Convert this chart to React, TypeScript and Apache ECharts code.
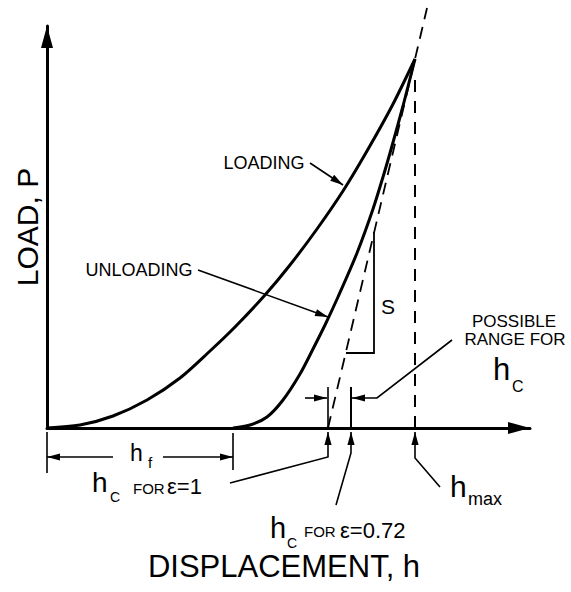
import React, { useEffect, useRef } from "react";
import * as echarts from "echarts";

// ---- data (h in display units, P in display units) ----
const loadingH = [0, 33, 66, 100, 133, 163, 188, 218, 243, 270, 296, 320, 345, 368];
const loadingP = [0, 3, 12, 28, 50, 77, 101, 133, 163, 199, 237, 277, 322, 369];
const unloadingH = [186, 203, 220, 236, 253, 266, 278, 291, 310, 326, 336, 345, 356, 368];
const unloadingP = [0, 3, 11, 28, 54, 79, 103, 131, 175, 219, 251, 282, 322, 369];

const hf = unloadingH[0];
const hc1 = 281; // hc for epsilon = 1 (tangent intercept)
const hc072 = 304; // hc for epsilon = 0.72
const hmax = 368;
const pmax = 369;

const xMax = 483;
const yMax = 402;

const FONT = "'Liberation Sans', Arial, Helvetica, sans-serif";

const loadingData = loadingH.map((h, i) => [h, loadingP[i]]);
const unloadingData = unloadingH.map((h, i) => [h, unloadingP[i]]);
const tangentTop = 420;
const tangentData = [
  [hc1, 0],
  [hc1 + ((hmax - hc1) * tangentTop) / pmax, tangentTop],
];
const hmaxLine = [
  [hmax, 0],
  [hmax, pmax - 20],
];

// plain construction lines (no arrowheads)
const plainLines = [
  { pts: [[hc1, 0], [hc1, 41]], w: 1.6 },
  { pts: [[hc072, 0], [hc072, 41]], w: 2 },
  { pts: [[0, -4], [0, -45]], w: 1.6 },
  { pts: [[hf, -5], [hf, -42]], w: 1.6 },
  { pts: [[327, 196], [327, 75], [299, 75]], w: 1.8 },
];

// leaders ending with an arrowhead at the last point
const leaders = [
  { pts: [[263, 265], [296, 243]] },
  { pts: [[151, 158], [281, 111]] },
  { pts: [[405, 88], [330, 30], [hc072 + 1, 30]] },
  { pts: [[258, 30], [hc1 - 1, 30]] },
  { pts: [[183, -55], [hc1, -29], [hc1, -4]] },
  { pts: [[289, -77], [hc072, -25], [hc072, -4]] },
  { pts: [[393, -59], [hmax, -30], [hmax, -4]] },
  { pts: [[66, -29], [0, -29]] },
  { pts: [[116, -29], [hf, -29]] },
];

type T = { t: string; at: number[]; size: number; align?: string; rot?: number };
const texts: T[] = [
  { t: "LOADING", at: [217, 265], size: 18, align: "center" },
  { t: "UNLOADING", at: [92, 158], size: 18, align: "center" },
  { t: "S", at: [341, 122], size: 21, align: "center" },
  { t: "POSSIBLE", at: [467, 107], size: 17, align: "center" },
  { t: "RANGE FOR", at: [468, 89], size: 17, align: "center" },
  { t: "h", at: [446, 59], size: 31 },
  { t: "C", at: [465, 42], size: 16 },
  { t: "h", at: [83, -25], size: 23 },
  { t: "f", at: [101, -34], size: 15 },
  { t: "h", at: [45, -54], size: 28 },
  { t: "C", at: [63, -69], size: 14 },
  { t: "FOR", at: [86, -60.5], size: 15 },
  { t: "ε=1", at: [120, -58], size: 22 },
  { t: "h", at: [403, -58], size: 30 },
  { t: "max", at: [421, -71], size: 18 },
  { t: "h", at: [223, -99.5], size: 29 },
  { t: "C", at: [240, -114.5], size: 14 },
  { t: "FOR", at: [257, -103.5], size: 15 },
  { t: "ε=0.72", at: [293, -102], size: 22 },
  { t: "DISPLACEMENT, h", at: [237, -138.5], size: 31, align: "center" },
  { t: "LOAD, P", at: [-20, 201], size: 30, align: "center", rot: Math.PI / 2 },
];

function arrowHead(p0: number[], p1: number[], len = 13, half = 3.6) {
  const dx = p1[0] - p0[0];
  const dy = p1[1] - p0[1];
  const d = Math.hypot(dx, dy) || 1;
  const ux = dx / d;
  const uy = dy / d;
  const bx = p1[0] - ux * len;
  const by = p1[1] - uy * len;
  return {
    type: "polygon",
    shape: {
      points: [
        [p1[0], p1[1]],
        [bx - uy * half, by + ux * half],
        [bx + uy * half, by - ux * half],
      ],
    },
    style: { fill: "#000", stroke: "none" },
  };
}

export default function App() {
  const ref = useRef<HTMLDivElement>(null);
  useEffect(() => {
    const chart = echarts.init(ref.current as HTMLDivElement, null, { renderer: "svg" });
    const axisLine = {
      show: true,
      onZero: false,
      symbol: ["none", "triangle"],
      symbolSize: [12, 22],
      symbolOffset: [0, -11],
      lineStyle: { color: "#000", width: 3 },
    };
    chart.setOption({
      animation: false,
      backgroundColor: "#fff",
      grid: { left: 47, right: 571 - 47 - xMax, top: 428 - yMax, bottom: 592 - 428 },
      xAxis: {
        type: "value",
        min: 0,
        max: xMax,
        axisLine,
        axisTick: { show: false },
        axisLabel: { show: false },
        splitLine: { show: false },
      },
      yAxis: {
        type: "value",
        min: 0,
        max: yMax,
        axisLine,
        axisTick: { show: false },
        axisLabel: { show: false },
        splitLine: { show: false },
      },
      series: [
        {
          type: "line",
          data: loadingData,
          smooth: 0.3,
          symbol: "none",
          clip: false,
          silent: true,
          lineStyle: { color: "#000", width: 3 },
        },
        {
          type: "line",
          data: unloadingData,
          smooth: 0.3,
          symbol: "none",
          clip: false,
          silent: true,
          lineStyle: { color: "#000", width: 3 },
        },
        {
          type: "line",
          data: tangentData,
          symbol: "none",
          clip: false,
          silent: true,
          lineStyle: { color: "#000", width: 1.8, type: [12, 8] },
        },
        {
          type: "line",
          data: hmaxLine,
          symbol: "none",
          clip: false,
          silent: true,
          lineStyle: { color: "#000", width: 2, type: [12, 9] },
        },
        {
          type: "custom",
          coordinateSystem: "cartesian2d",
          silent: true,
          clip: false,
          z: 5,
          data: [[0, 0]],
          renderItem: (_params: any, api: any) => {
            const c = (p: number[]) => api.coord(p);
            const children: any[] = [];
            plainLines.forEach((l) => {
              children.push({
                type: "polyline",
                shape: { points: l.pts.map(c) },
                style: { stroke: "#000", lineWidth: l.w, fill: "none" },
              });
            });
            leaders.forEach((l) => {
              const pts = l.pts.map(c);
              children.push({
                type: "polyline",
                shape: { points: pts },
                style: { stroke: "#000", lineWidth: 1.6, fill: "none" },
              });
              children.push(arrowHead(pts[pts.length - 2], pts[pts.length - 1]));
            });
            texts.forEach((t) => {
              const p = c(t.at);
              children.push({
                type: "text",
                x: p[0],
                y: p[1],
                rotation: t.rot || 0,
                style: {
                  text: t.t,
                  fontSize: t.size,
                  fontFamily: FONT,
                  fill: "#000",
                  align: t.align || "left",
                  verticalAlign: "middle",
                },
              });
            });
            return { type: "group", children };
          },
        },
      ],
    });
    return () => chart.dispose();
  }, []);
  return (
    <div
      ref={ref}
      style={{ position: "fixed", left: 0, top: 0, width: 571, height: 592, background: "#fff" }}
    />
  );
}
